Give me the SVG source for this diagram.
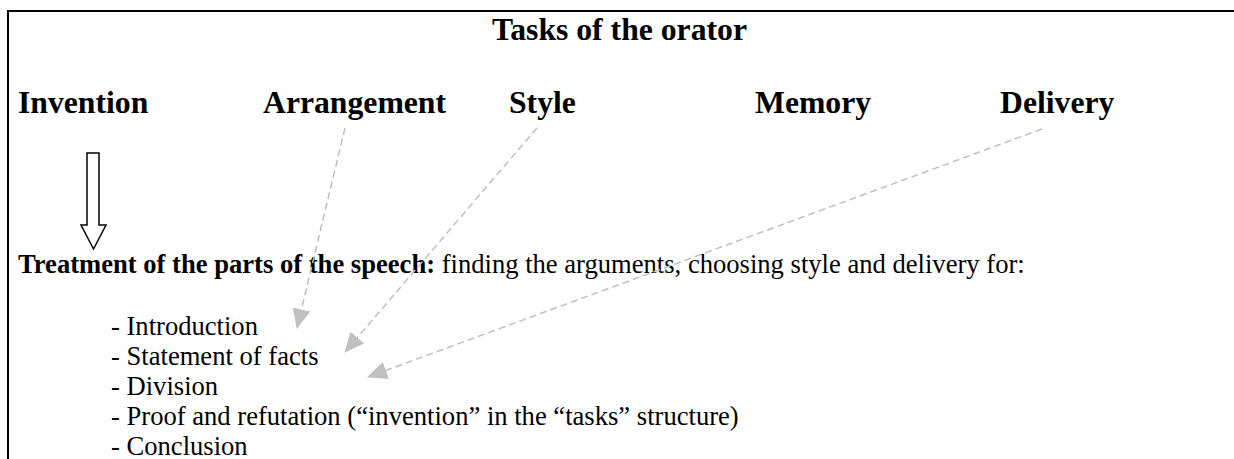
<svg xmlns="http://www.w3.org/2000/svg" width="1234" height="459" viewBox="0 0 1234 459">
<style>
.h{font-family:'Liberation Serif','Times New Roman',Times,'DejaVu Serif',serif;font-weight:bold;font-size:31.7px;fill:#000}
.b{font-family:'Liberation Serif','Times New Roman',Times,'DejaVu Serif',serif;font-size:26.6px;fill:#000}
.bb{font-weight:bold}
.c{stroke:#c0c0c0;stroke-width:1.5;stroke-dasharray:7,4;fill:none}
</style>
<defs>
<marker id="ah" viewBox="0 0 20 18" refX="19" refY="9" markerWidth="20" markerHeight="18" markerUnits="userSpaceOnUse" orient="auto">
<path d="M0,0 L20,9 L0,18 z" fill="#c0c0c0"/>
</marker>
</defs>
<rect width="1234" height="459" fill="#fff"/>
<g id="frame" stroke="#000" stroke-width="2" fill="none">
<line x1="7" y1="11" x2="1234" y2="11"/>
<line x1="8" y1="10" x2="8" y2="459"/>
</g>
<g id="title"><text class="h" font-family="Liberation Serif" x="492" y="40">Tasks of the orator</text></g>
<g id="invention"><text class="h" font-family="Liberation Serif" x="18" y="113">Invention</text></g>
<g id="arrangement"><text class="h" x="263" y="113">Arrangement</text></g>
<g id="style"><text class="h" x="509" y="113">Style</text></g>
<g id="memory"><text class="h" x="755" y="113">Memory</text></g>
<g id="delivery"><text class="h" x="1000" y="113">Delivery</text></g>
<g id="treatment">
<text class="b" x="18" y="273"><tspan class="bb">Treatment of the parts of the speech:</tspan> finding the arguments, choosing style and delivery for:</text>
<text class="b" x="111" y="335">- Introduction</text>
<text class="b" x="111" y="365">- Statement of facts</text>
<text class="b" x="111" y="395">- Division</text>
<text class="b" x="111" y="425">- Proof and refutation (“invention” in the “tasks” structure)</text>
<text class="b" x="111" y="455">- Conclusion</text>
</g>
<g id="connectors">
<polygon points="87,153 99,153 99,225 106,225 93.5,249 81,225 87,225" fill="#fff" stroke="#000" stroke-width="1.5"/>
<line class="c" x1="345" y1="128" x2="297" y2="328" marker-end="url(#ah)"/>
<line class="c" x1="537" y1="128" x2="345" y2="352" marker-end="url(#ah)"/>
<line class="c" x1="1042" y1="129" x2="368" y2="377" marker-end="url(#ah)"/>
</g>
</svg>
